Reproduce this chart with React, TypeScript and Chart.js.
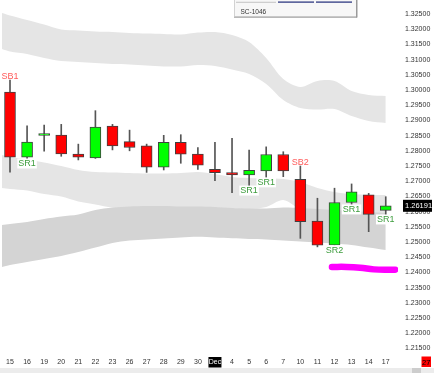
import React, { useEffect, useRef } from 'react';
import { Chart, registerables } from 'chart.js';

Chart.register(...registerables);

// ---- data ----
const categories = ['15', '16', '19', '20', '21', '22', '23', '26', '27', '28', '29', '30', 'Dec', '4', '5', '6', '7', '10', '11', '12', '13', '14', '17'];
const opens = [1.2993, 1.2779, 1.2851, 1.2852, 1.2789, 1.2777, 1.2881, 1.2830, 1.2816, 1.2746, 1.2828, 1.2789, 1.2739, 1.2728, 1.2721, 1.2734, 1.2788, 1.2706, 1.2569, 1.2490, 1.2630, 1.2655, 1.2604];
const highs = [1.3033, 1.2882, 1.2885, 1.2887, 1.2822, 1.2932, 1.2887, 1.2868, 1.2822, 1.2851, 1.2853, 1.2811, 1.2828, 1.2841, 1.2802, 1.2813, 1.2797, 1.2750, 1.2644, 1.2677, 1.2691, 1.2660, 1.2649];
const lows = [1.2730, 1.2773, 1.2799, 1.2782, 1.2770, 1.2775, 1.2803, 1.2800, 1.2729, 1.2737, 1.2759, 1.2739, 1.2702, 1.2662, 1.2684, 1.2711, 1.2715, 1.2512, 1.2484, 1.2488, 1.2622, 1.2534, 1.2589];
const closes = [1.2779, 1.2829, 1.2857, 1.2790, 1.2779, 1.2878, 1.2816, 1.2811, 1.2746, 1.2828, 1.2789, 1.2753, 1.2728, 1.2721, 1.2736, 1.2788, 1.2734, 1.2567, 1.2490, 1.2630, 1.2665, 1.2591, 1.2619];
const lastPrice = 1.26191;
const yTickValues = [1.215, 1.22, 1.225, 1.23, 1.235, 1.24, 1.245, 1.25, 1.255, 1.26, 1.265, 1.27, 1.275, 1.28, 1.285, 1.29, 1.295, 1.3, 1.305, 1.31, 1.315, 1.32, 1.325];

const bandX = [-0.47, 0, 1, 2, 3, 4, 5, 6, 7, 8, 9, 10, 11, 12, 13, 14, 15, 16, 17, 18, 19, 20, 21, 22];
const upperTop = [1.32533, 1.32451, 1.32303, 1.32155, 1.31991, 1.31958, 1.31925, 1.31908, 1.31876, 1.31859, 1.31843, 1.31826, 1.31892, 1.31908, 1.31810, 1.31579, 1.31053, 1.30362, 1.30099, 1.30297, 1.30297, 1.29968, 1.29836, 1.29803];
const upperBottom = [1.31349, 1.31267, 1.31185, 1.31053, 1.30954, 1.30922, 1.30889, 1.30856, 1.30839, 1.30806, 1.30774, 1.30774, 1.30823, 1.30790, 1.30675, 1.30527, 1.30198, 1.29672, 1.29408, 1.29359, 1.29375, 1.29145, 1.28981, 1.28915];
const lowerATop = [1.27862, 1.27797, 1.27714, 1.27616, 1.27500, 1.27369, 1.27303, 1.27287, 1.27270, 1.27254, 1.27254, 1.27270, 1.27303, 1.27237, 1.27139, 1.27106, 1.27089, 1.27073, 1.26974, 1.26777, 1.26645, 1.26579, 1.26547, 1.26547];
const lowerABottom = [1.26777, 1.26744, 1.26694, 1.26579, 1.26497, 1.26333, 1.26234, 1.26135, 1.26135, 1.26135, 1.26135, 1.26135, 1.26135, 1.26135, 1.26102, 1.26086, 1.26152, 1.26382, 1.26086, 1.26053, 1.25987, 1.25954, 1.25922, 1.25889];
const lowerBTop = [1.25560, 1.25592, 1.25658, 1.25757, 1.25839, 1.25905, 1.26053, 1.26135, 1.26168, 1.26185, 1.26185, 1.26168, 1.26168, 1.26152, 1.26119, 1.26102, 1.26102, 1.26135, 1.26119, 1.26086, 1.26053, 1.26020, 1.25987, 1.25954];
const lowerBBottom = [1.24178, 1.24244, 1.24342, 1.24441, 1.24540, 1.24671, 1.24819, 1.24968, 1.25050, 1.25083, 1.25116, 1.25148, 1.25175, 1.25148, 1.25122, 1.25099, 1.25083, 1.25050, 1.25017, 1.24984, 1.24951, 1.24902, 1.24819, 1.24737];

const magentaX = [18.85, 19.7, 20.5, 21.3, 22.1, 22.55];
const magentaY = [1.2418, 1.2418, 1.24155, 1.2410, 1.24085, 1.2409];

const signalNames = ['SB1', 'SR1', 'SR1', 'SR1', 'SB2', 'SR2', 'SR1', 'SR1'];
const signalBars = [0, 1, 14, 15, 17, 19, 20, 22];

const panelTitle = 'SC-1046';
const currentDayLabel = '27';

const FONT = '"Liberation Sans", Arial, sans-serif';

const pts = (xs: number[], ys: number[]) => xs.map((x, i) => ({ x, y: ys[i] }));

const bandDs = (data: number[], color: string, fillNext: boolean, order: number) => ({
  type: 'line' as const,
  data: pts(bandX, data),
  borderColor: 'transparent',
  borderWidth: 0,
  backgroundColor: color,
  pointRadius: 0,
  tension: 0.3,
  fill: fillNext ? '+1' : false,
  order,
});

const overlay = {
  id: 'overlay',
  afterDraw(chart: any) {
    const ctx = chart.ctx as CanvasRenderingContext2D;
    const xs = chart.scales.x;
    const ys = chart.scales.y;
    ctx.save();

    // signal labels
    ctx.font = '9px ' + FONT;
    ctx.textAlign = 'center';
    ctx.textBaseline = 'middle';
    signalNames.forEach((name, k) => {
      const i = signalBars[k];
      const x = xs.getPixelForValue(i);
      if (name.startsWith('SR')) {
        const y = ys.getPixelForValue(lows[i]);
        const w = ctx.measureText(name).width + 2;
        ctx.fillStyle = '#ffffff';
        ctx.fillRect(x - w / 2, y - 0.5, w, 10);
        ctx.fillStyle = '#3c9c3c';
        ctx.fillText(name, x, y + 4.8);
      } else {
        const y = ys.getPixelForValue(highs[i]);
        ctx.fillStyle = '#ff5a5a';
        ctx.fillText(name, x, y - 3.5);
      }
    });

    // last price box
    const py = ys.getPixelForValue(lastPrice);
    ctx.fillStyle = '#000000';
    ctx.fillRect(403, py - 6, 29, 12);
    ctx.fillStyle = '#ffffff';
    ctx.font = '7.5px ' + FONT;
    ctx.textAlign = 'left';
    ctx.fillText(lastPrice.toFixed(5), 405, py + 0.5);

    // x labels
    ctx.font = '7px ' + FONT;
    ctx.textAlign = 'center';
    const ly = 362;
    categories.forEach((c, i) => {
      const x = xs.getPixelForValue(i);
      if (c === 'Dec') {
        ctx.fillStyle = '#000000';
        ctx.fillRect(x - 6.5, ly - 5, 13, 10.5);
        ctx.fillStyle = '#ffffff';
        ctx.fillText(c, x, ly + 0.5);
      } else {
        ctx.fillStyle = '#333333';
        ctx.fillText(c, x, ly + 0.5);
      }
    });
    // current day box
    ctx.fillStyle = '#ff0000';
    ctx.fillRect(421.5, 356.5, 9.5, 10.5);
    ctx.fillStyle = '#000000';
    ctx.font = '7.5px ' + FONT;
    ctx.textAlign = 'center';
    ctx.textBaseline = 'middle';
    ctx.fillText(currentDayLabel, 426.2, ly + 0.5);

    // scrollbar
    ctx.fillStyle = '#ececec';
    ctx.fillRect(0, 368, 434, 5);
    ctx.fillStyle = '#cdcdcd';
    ctx.fillRect(412, 368, 9, 5);

    // top panel
    ctx.fillStyle = '#f7f7f7';
    ctx.fillRect(234, 0, 123, 17);
    ctx.fillStyle = '#9a9a9a';
    ctx.fillRect(356, 0, 1.5, 17.5);
    ctx.fillRect(234, 16.5, 123, 1.2);
    ctx.fillStyle = '#c8c8c8';
    ctx.fillRect(234, 0, 0.8, 17);
    ctx.fillStyle = '#bdbdbd';
    ctx.fillRect(236, 1.8, 40, 0.9);
    ctx.fillStyle = '#1e2a78';
    ctx.fillRect(278, 1.5, 36, 1.2);
    ctx.fillRect(316, 1.5, 36, 1.2);
    ctx.fillStyle = '#333333';
    ctx.font = '6.5px ' + FONT;
    ctx.textAlign = 'left';
    ctx.fillText(panelTitle, 240.5, 12.5);

    ctx.restore();
  },
};

export default function App() {
  const ref = useRef<HTMLCanvasElement | null>(null);

  useEffect(() => {
    if (!ref.current) return;
    const bodyColors = opens.map((o, i) => (closes[i] >= o ? '#00ff00' : '#ff0000'));
    const chart = new Chart(ref.current, {
      type: 'bar',
      data: {
        datasets: [
          bandDs(upperTop, '#e5e5e5', true, 20),
          bandDs(upperBottom, '#e5e5e5', false, 20),
          bandDs(lowerATop, '#e5e5e5', true, 19),
          bandDs(lowerABottom, '#e5e5e5', false, 19),
          bandDs(lowerBTop, '#d4d4d4', true, 18),
          bandDs(lowerBBottom, '#d4d4d4', false, 18),
          {
            type: 'bar',
            data: categories.map((_, i) => ({ x: i, y: [lows[i], highs[i]] })) as any,
            backgroundColor: '#555555',
            borderWidth: 0,
            barThickness: 1,
            grouped: false,
            order: 6,
          } as any,
          {
            type: 'bar',
            data: categories.map((_, i) => ({ x: i, y: [opens[i], closes[i]] })) as any,
            backgroundColor: bodyColors,
            borderColor: '#404040',
            borderWidth: 1,
            borderSkipped: false,
            barThickness: 11,
            grouped: false,
            order: 5,
          } as any,
          {
            type: 'line',
            data: pts(magentaX, magentaY),
            borderColor: '#ff00ff',
            borderWidth: 6.5,
            borderCapStyle: 'round',
            borderJoinStyle: 'round',
            pointRadius: 0,
            tension: 0.4,
            fill: false,
            order: 4,
          } as any,
        ],
      },
      options: {
        responsive: false,
        animation: false,
        devicePixelRatio: 1,
        layout: { padding: { left: 0, right: 0, top: 0, bottom: 19 } },
        plugins: { legend: { display: false }, tooltip: { enabled: false } },
        scales: {
          x: {
            type: 'linear',
            display: false,
            min: -0.5855,
            max: 22.717,
            offset: false,
          },
          y: {
            type: 'linear',
            position: 'right',
            min: 1.21283,
            max: 1.32961,
            grid: { display: false, drawTicks: false },
            border: { display: false },
            ticks: {
              padding: 7,
              color: '#333333',
              font: { size: 7, family: FONT },
              callback: (v: any) => Number(v).toFixed(5),
            },
            afterBuildTicks: (scale: any) => {
              scale.ticks = yTickValues.map((v) => ({ value: v }));
            },
            afterFit: (scale: any) => {
              scale.width = 36;
              scale.paddingTop = 0;
              scale.paddingBottom = 0;
            },
          } as any,
        },
      },
      plugins: [overlay],
    });
    return () => chart.destroy();
  }, []);

  return (
    <div style={{ position: 'fixed', left: 0, top: 0, width: 434, height: 374, background: '#ffffff' }}>
      <canvas ref={ref} width={434} height={374} style={{ display: 'block' }} />
    </div>
  );
}
